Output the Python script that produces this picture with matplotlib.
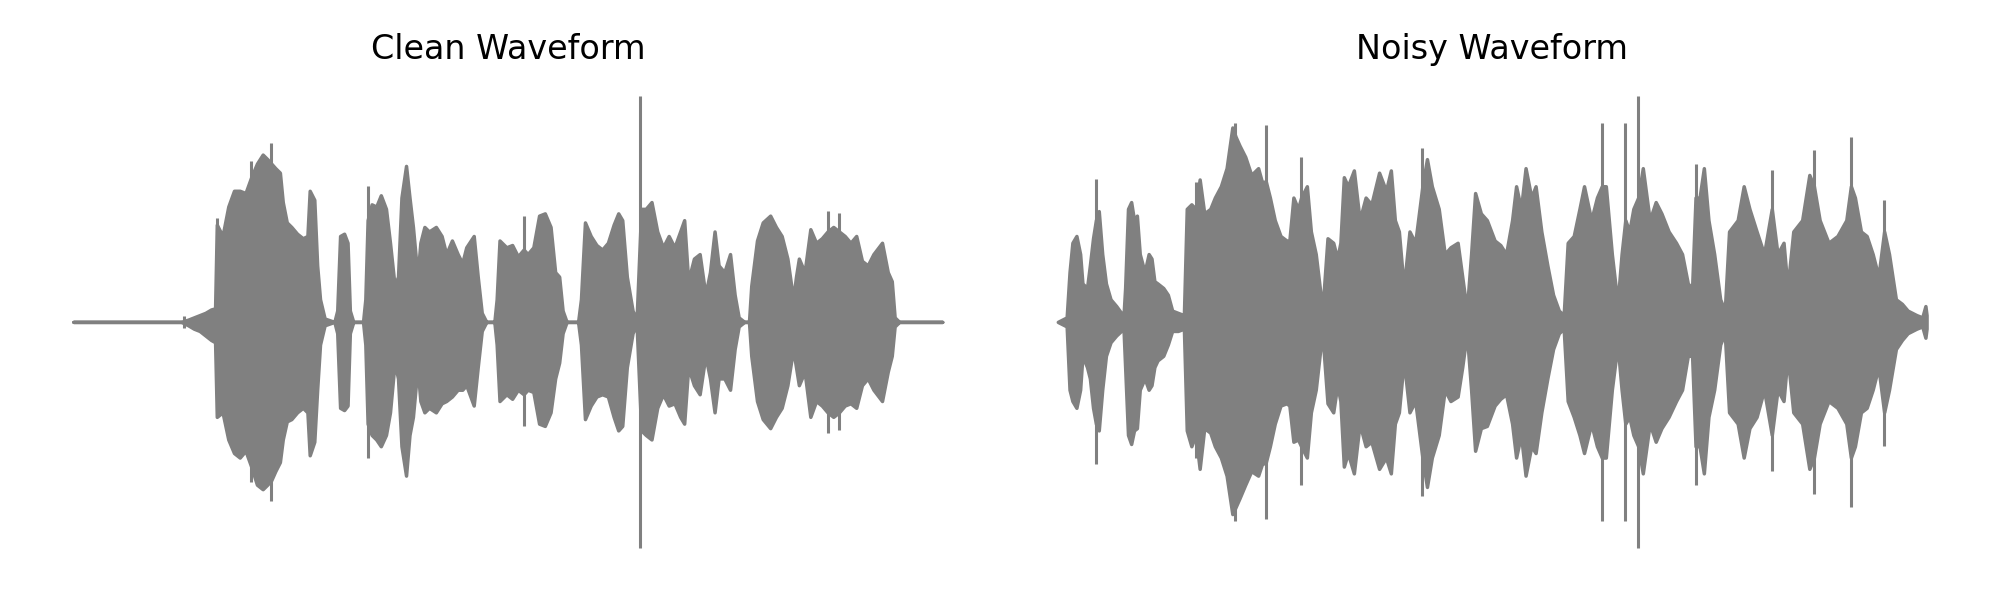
import numpy as np
import matplotlib.pyplot as plt

# envelope of the clean clip (seconds, upper, lower)
clean_t = [0.0, 0.376, 0.40, 0.42, 0.44, 0.46, 0.48, 0.494, 0.50, 0.52, 0.54, 0.56, 0.58, 0.60, 0.62, 0.64,
           0.66, 0.676, 0.69, 0.704, 0.72, 0.73, 0.744, 0.76, 0.78, 0.80, 0.816, 0.824, 0.84, 0.85, 0.86, 0.876,
           0.91, 0.92, 0.93, 0.944, 0.956, 0.964, 0.976, 1.01, 1.018, 1.026, 1.04, 1.056, 1.072, 1.09, 1.104,
           1.12, 1.132, 1.144, 1.16, 1.172, 1.184, 1.20, 1.21, 1.224, 1.24, 1.264, 1.284, 1.30, 1.32, 1.34,
           1.356, 1.37, 1.396, 1.41, 1.424, 1.44, 1.468, 1.476, 1.486, 1.51, 1.53, 1.55, 1.57, 1.584, 1.604,
           1.624, 1.644, 1.664, 1.68, 1.694, 1.706, 1.72, 1.76, 1.77, 1.784, 1.804, 1.824, 1.844, 1.864, 1.884,
           1.90, 1.914, 1.93, 1.95, 1.964, 1.98, 1.996, 2.016, 2.036, 2.056, 2.076, 2.096, 2.116, 2.13, 2.144,
           2.164, 2.184, 2.204, 2.22, 2.236, 2.25, 2.27, 2.29, 2.306, 2.32, 2.34, 2.356, 2.364, 2.384, 2.404,
           2.43, 2.45, 2.47, 2.49, 2.51, 2.52, 2.53, 2.55, 2.57, 2.59, 2.61, 2.63, 2.65, 2.67, 2.69, 2.71,
           2.73, 2.75, 2.77, 2.79, 2.82, 2.84, 2.854, 2.864, 2.88, 3.03]
clean_hi = [0, 0, 0.01, 0.02, 0.03, 0.04, 0.055, 0.06, 0.43, 0.38, 0.51, 0.58, 0.58, 0.57, 0.64, 0.70,
            0.74, 0.72, 0.70, 0.68, 0.66, 0.53, 0.44, 0.42, 0.39, 0.37, 0.38, 0.58, 0.54, 0.25, 0.10, 0.015,
            0, 0.05, 0.38, 0.39, 0.35, 0.05, 0, 0, 0.10, 0.45, 0.52, 0.51, 0.56, 0.50, 0.35,
            0.16, 0.20, 0.55, 0.69, 0.55, 0.42, 0.20, 0.35, 0.42, 0.40, 0.42, 0.38, 0.30, 0.36, 0.30,
            0.26, 0.33, 0.38, 0.20, 0.04, 0, 0, 0.10, 0.36, 0.33, 0.34, 0.29, 0.32, 0.30, 0.33,
            0.47, 0.48, 0.42, 0.22, 0.20, 0.05, 0, 0, 0.10, 0.44, 0.38, 0.34, 0.32, 0.35, 0.43,
            0.48, 0.45, 0.20, 0.05, 0.01, 0.50, 0.50, 0.53, 0.40, 0.33, 0.38, 0.33, 0.40, 0.45, 0.18,
            0.28, 0.30, 0.12, 0.22, 0.40, 0.25, 0.22, 0.30, 0.12, 0.02, 0, 0, 0.16, 0.36, 0.44,
            0.47, 0.42, 0.38, 0.28, 0.10, 0.20, 0.28, 0.22, 0.41, 0.35, 0.37, 0.40, 0.42, 0.40, 0.38, 0.35,
            0.38, 0.27, 0.25, 0.30, 0.35, 0.22, 0.18, 0.02, 0, 0]
clean_lo = [0, 0, -0.015, -0.03, -0.04, -0.06, -0.08, -0.09, -0.42, -0.40, -0.52, -0.58, -0.60, -0.57, -0.64, -0.72,
            -0.74, -0.72, -0.70, -0.66, -0.62, -0.52, -0.44, -0.43, -0.40, -0.38, -0.40, -0.59, -0.53, -0.30, -0.10, -0.015,
            0, -0.05, -0.38, -0.39, -0.37, -0.05, 0, 0, -0.10, -0.45, -0.50, -0.52, -0.55, -0.50, -0.40,
            -0.18, -0.25, -0.55, -0.68, -0.50, -0.42, -0.20, -0.35, -0.40, -0.38, -0.40, -0.36, -0.35, -0.33, -0.30,
            -0.30, -0.28, -0.37, -0.20, -0.04, 0, 0, -0.10, -0.35, -0.32, -0.34, -0.30, -0.32, -0.30, -0.31,
            -0.45, -0.46, -0.40, -0.25, -0.18, -0.05, 0, 0, -0.10, -0.43, -0.37, -0.33, -0.32, -0.33, -0.42,
            -0.48, -0.46, -0.20, -0.05, -0.01, -0.48, -0.50, -0.52, -0.38, -0.32, -0.37, -0.36, -0.42, -0.45, -0.20,
            -0.28, -0.32, -0.15, -0.25, -0.40, -0.25, -0.25, -0.30, -0.12, -0.02, 0, 0, -0.15, -0.35, -0.43,
            -0.47, -0.42, -0.38, -0.28, -0.12, -0.20, -0.28, -0.22, -0.42, -0.35, -0.37, -0.40, -0.42, -0.40, -0.37, -0.36,
            -0.38, -0.28, -0.25, -0.30, -0.35, -0.22, -0.15, -0.02, 0, 0]
# single sharp peaks in the clean clip
clean_spike_t = [0.386, 0.50, 0.62, 0.69, 1.026, 1.57, 1.976, 2.63, 2.67]
clean_spike_hi = [0.025, 0.46, 0.71, 0.79, 0.60, 0.47, 1.0, 0.49, 0.48]
clean_spike_lo = [-0.025, -0.42, -0.71, -0.79, -0.60, -0.46, -1.0, -0.49, -0.48]

# envelope of the noisy clip
noisy_t = [0.0, 0.031, 0.041, 0.051, 0.065, 0.078, 0.086, 0.102, 0.112, 0.123, 0.133, 0.143, 0.155, 0.168,
           0.184, 0.204, 0.221, 0.229, 0.235, 0.245, 0.256, 0.266, 0.276, 0.286, 0.303, 0.317, 0.327, 0.337,
           0.348, 0.368, 0.384, 0.399, 0.419, 0.440, 0.450, 0.466, 0.481, 0.495, 0.511, 0.532, 0.548, 0.569,
           0.589, 0.609, 0.620, 0.634, 0.654, 0.675, 0.699, 0.712, 0.726, 0.740, 0.757, 0.777, 0.798, 0.808,
           0.822, 0.838, 0.849, 0.869, 0.883, 0.900, 0.916, 0.926, 0.941, 0.961, 0.975, 0.986, 0.998, 1.012,
           1.033, 1.053, 1.074, 1.094, 1.121, 1.145, 1.162, 1.176, 1.190, 1.207, 1.227, 1.247, 1.272, 1.288,
           1.305, 1.329, 1.350, 1.370, 1.395, 1.411, 1.427, 1.442, 1.456, 1.476, 1.497, 1.524, 1.544, 1.564,
           1.585, 1.599, 1.616, 1.632, 1.652, 1.667, 1.687, 1.708, 1.728, 1.748, 1.765, 1.779, 1.800, 1.820,
           1.836, 1.861, 1.881, 1.898, 1.912, 1.933, 1.953, 1.967, 1.980, 1.994, 2.008, 2.025, 2.041, 2.065,
           2.086, 2.106, 2.131, 2.157, 2.178, 2.198, 2.213, 2.225, 2.239, 2.254, 2.270, 2.290, 2.311, 2.327,
           2.342, 2.372, 2.393, 2.413, 2.438, 2.464, 2.491, 2.511, 2.532, 2.546, 2.566, 2.597, 2.622, 2.638,
           2.658, 2.689, 2.720, 2.751, 2.767, 2.781, 2.802, 2.822, 2.843, 2.863, 2.883, 2.900, 2.924, 2.945,
           2.965, 2.996, 3.016, 3.027, 3.031]
noisy_hi = [0, 0.02, 0.22, 0.35, 0.38, 0.30, 0.17, 0.15, 0.25, 0.37, 0.45, 0.49, 0.30, 0.17,
            0.10, 0.07, 0.04, 0.02, 0.15, 0.50, 0.53, 0.45, 0.47, 0.30, 0.22, 0.30, 0.28, 0.18,
            0.17, 0.15, 0.12, 0.05, 0.04, 0.03, 0.50, 0.52, 0.50, 0.63, 0.48, 0.50, 0.55, 0.60,
            0.68, 0.86, 0.82, 0.78, 0.73, 0.65, 0.68, 0.62, 0.62, 0.55, 0.45, 0.38, 0.36, 0.36,
            0.55, 0.50, 0.55, 0.60, 0.40, 0.30, 0.13, 0.10, 0.37, 0.35, 0.28, 0.35, 0.64, 0.60,
            0.67, 0.45, 0.55, 0.52, 0.66, 0.58, 0.67, 0.45, 0.40, 0.15, 0.40, 0.35, 0.60, 0.72,
            0.60, 0.50, 0.30, 0.33, 0.35, 0.20, 0.05, 0.30, 0.57, 0.48, 0.45, 0.36, 0.34, 0.30,
            0.45, 0.60, 0.50, 0.68, 0.55, 0.60, 0.40, 0.25, 0.12, 0.05, 0.03, 0.35, 0.38, 0.50,
            0.60, 0.45, 0.55, 0.60, 0.60, 0.30, 0.08, 0.30, 0.45, 0.40, 0.50, 0.55, 0.68, 0.45,
            0.53, 0.48, 0.40, 0.35, 0.30, 0.17, 0.15, 0.55, 0.55, 0.68, 0.45, 0.30, 0.10, 0.05,
            0.40, 0.45, 0.60, 0.50, 0.40, 0.30, 0.50, 0.30, 0.35, 0.15, 0.40, 0.45, 0.65, 0.60,
            0.45, 0.35, 0.38, 0.45, 0.60, 0.55, 0.40, 0.38, 0.30, 0.20, 0.40, 0.30, 0.10, 0.08,
            0.05, 0.03, 0.02, 0.07, 0.03]
noisy_lo = [0, -0.02, -0.30, -0.35, -0.38, -0.30, -0.15, -0.20, -0.25, -0.38, -0.45, -0.48, -0.30, -0.15,
            -0.09, -0.06, -0.04, -0.02, -0.20, -0.50, -0.54, -0.48, -0.47, -0.30, -0.25, -0.30, -0.28, -0.20,
            -0.17, -0.15, -0.10, -0.04, -0.04, -0.03, -0.48, -0.55, -0.50, -0.65, -0.47, -0.49, -0.55, -0.60,
            -0.68, -0.85, -0.82, -0.78, -0.72, -0.66, -0.68, -0.63, -0.62, -0.55, -0.45, -0.37, -0.36, -0.37,
            -0.53, -0.52, -0.55, -0.60, -0.40, -0.30, -0.12, -0.10, -0.36, -0.40, -0.28, -0.35, -0.64, -0.58,
            -0.67, -0.45, -0.55, -0.53, -0.65, -0.60, -0.67, -0.45, -0.40, -0.17, -0.40, -0.35, -0.60, -0.73,
            -0.60, -0.50, -0.30, -0.35, -0.33, -0.20, -0.05, -0.30, -0.57, -0.47, -0.46, -0.37, -0.34, -0.32,
            -0.45, -0.60, -0.50, -0.68, -0.55, -0.58, -0.40, -0.25, -0.12, -0.05, -0.03, -0.35, -0.42, -0.50,
            -0.58, -0.45, -0.55, -0.60, -0.60, -0.30, -0.10, -0.30, -0.45, -0.42, -0.50, -0.55, -0.67, -0.45,
            -0.53, -0.47, -0.42, -0.35, -0.30, -0.15, -0.15, -0.55, -0.55, -0.67, -0.42, -0.30, -0.10, -0.05,
            -0.40, -0.45, -0.60, -0.47, -0.42, -0.30, -0.50, -0.30, -0.35, -0.15, -0.40, -0.45, -0.65, -0.60,
            -0.45, -0.35, -0.38, -0.45, -0.60, -0.55, -0.40, -0.38, -0.30, -0.20, -0.40, -0.30, -0.12, -0.08,
            -0.05, -0.03, -0.02, -0.07, -0.03]
noisy_spike_t = [0.133, 0.481, 0.620, 0.726, 0.849, 1.272, 1.898, 1.980, 2.025, 2.225, 2.491, 2.638, 2.767, 2.883]
noisy_spike_hi = [0.63, 0.62, 0.88, 0.87, 0.73, 0.77, 0.88, 0.88, 1.0, 0.70, 0.67, 0.76, 0.82, 0.54]
noisy_spike_lo = [-0.63, -0.60, -0.88, -0.87, -0.72, -0.77, -0.88, -0.88, -1.0, -0.72, -0.66, -0.76, -0.82, -0.55]

titles = ["Clean Waveform", "Noisy Waveform"]
clips = [(clean_t, clean_hi, clean_lo, clean_spike_t, clean_spike_hi, clean_spike_lo),
         (noisy_t, noisy_hi, noisy_lo, noisy_spike_t, noisy_spike_hi, noisy_spike_lo)]

fig, axes = plt.subplots(1, 2, figsize=(20, 6), dpi=100)
plt.subplots_adjust(left=0.015, right=0.985, bottom=0.049, top=0.878, wspace=0.03)

for ax, title, (t, hi, lo, st, sh, sl) in zip(axes, titles, clips):
    ax.fill_between(t, lo, hi, color="gray", edgecolor="gray", linewidth=2.5)
    ax.vlines(st, sl, sh, color="gray", linewidth=2.2)
    ax.set_title(title, fontsize=24, pad=10)
    ax.axis("off")

plt.savefig("out.png")
